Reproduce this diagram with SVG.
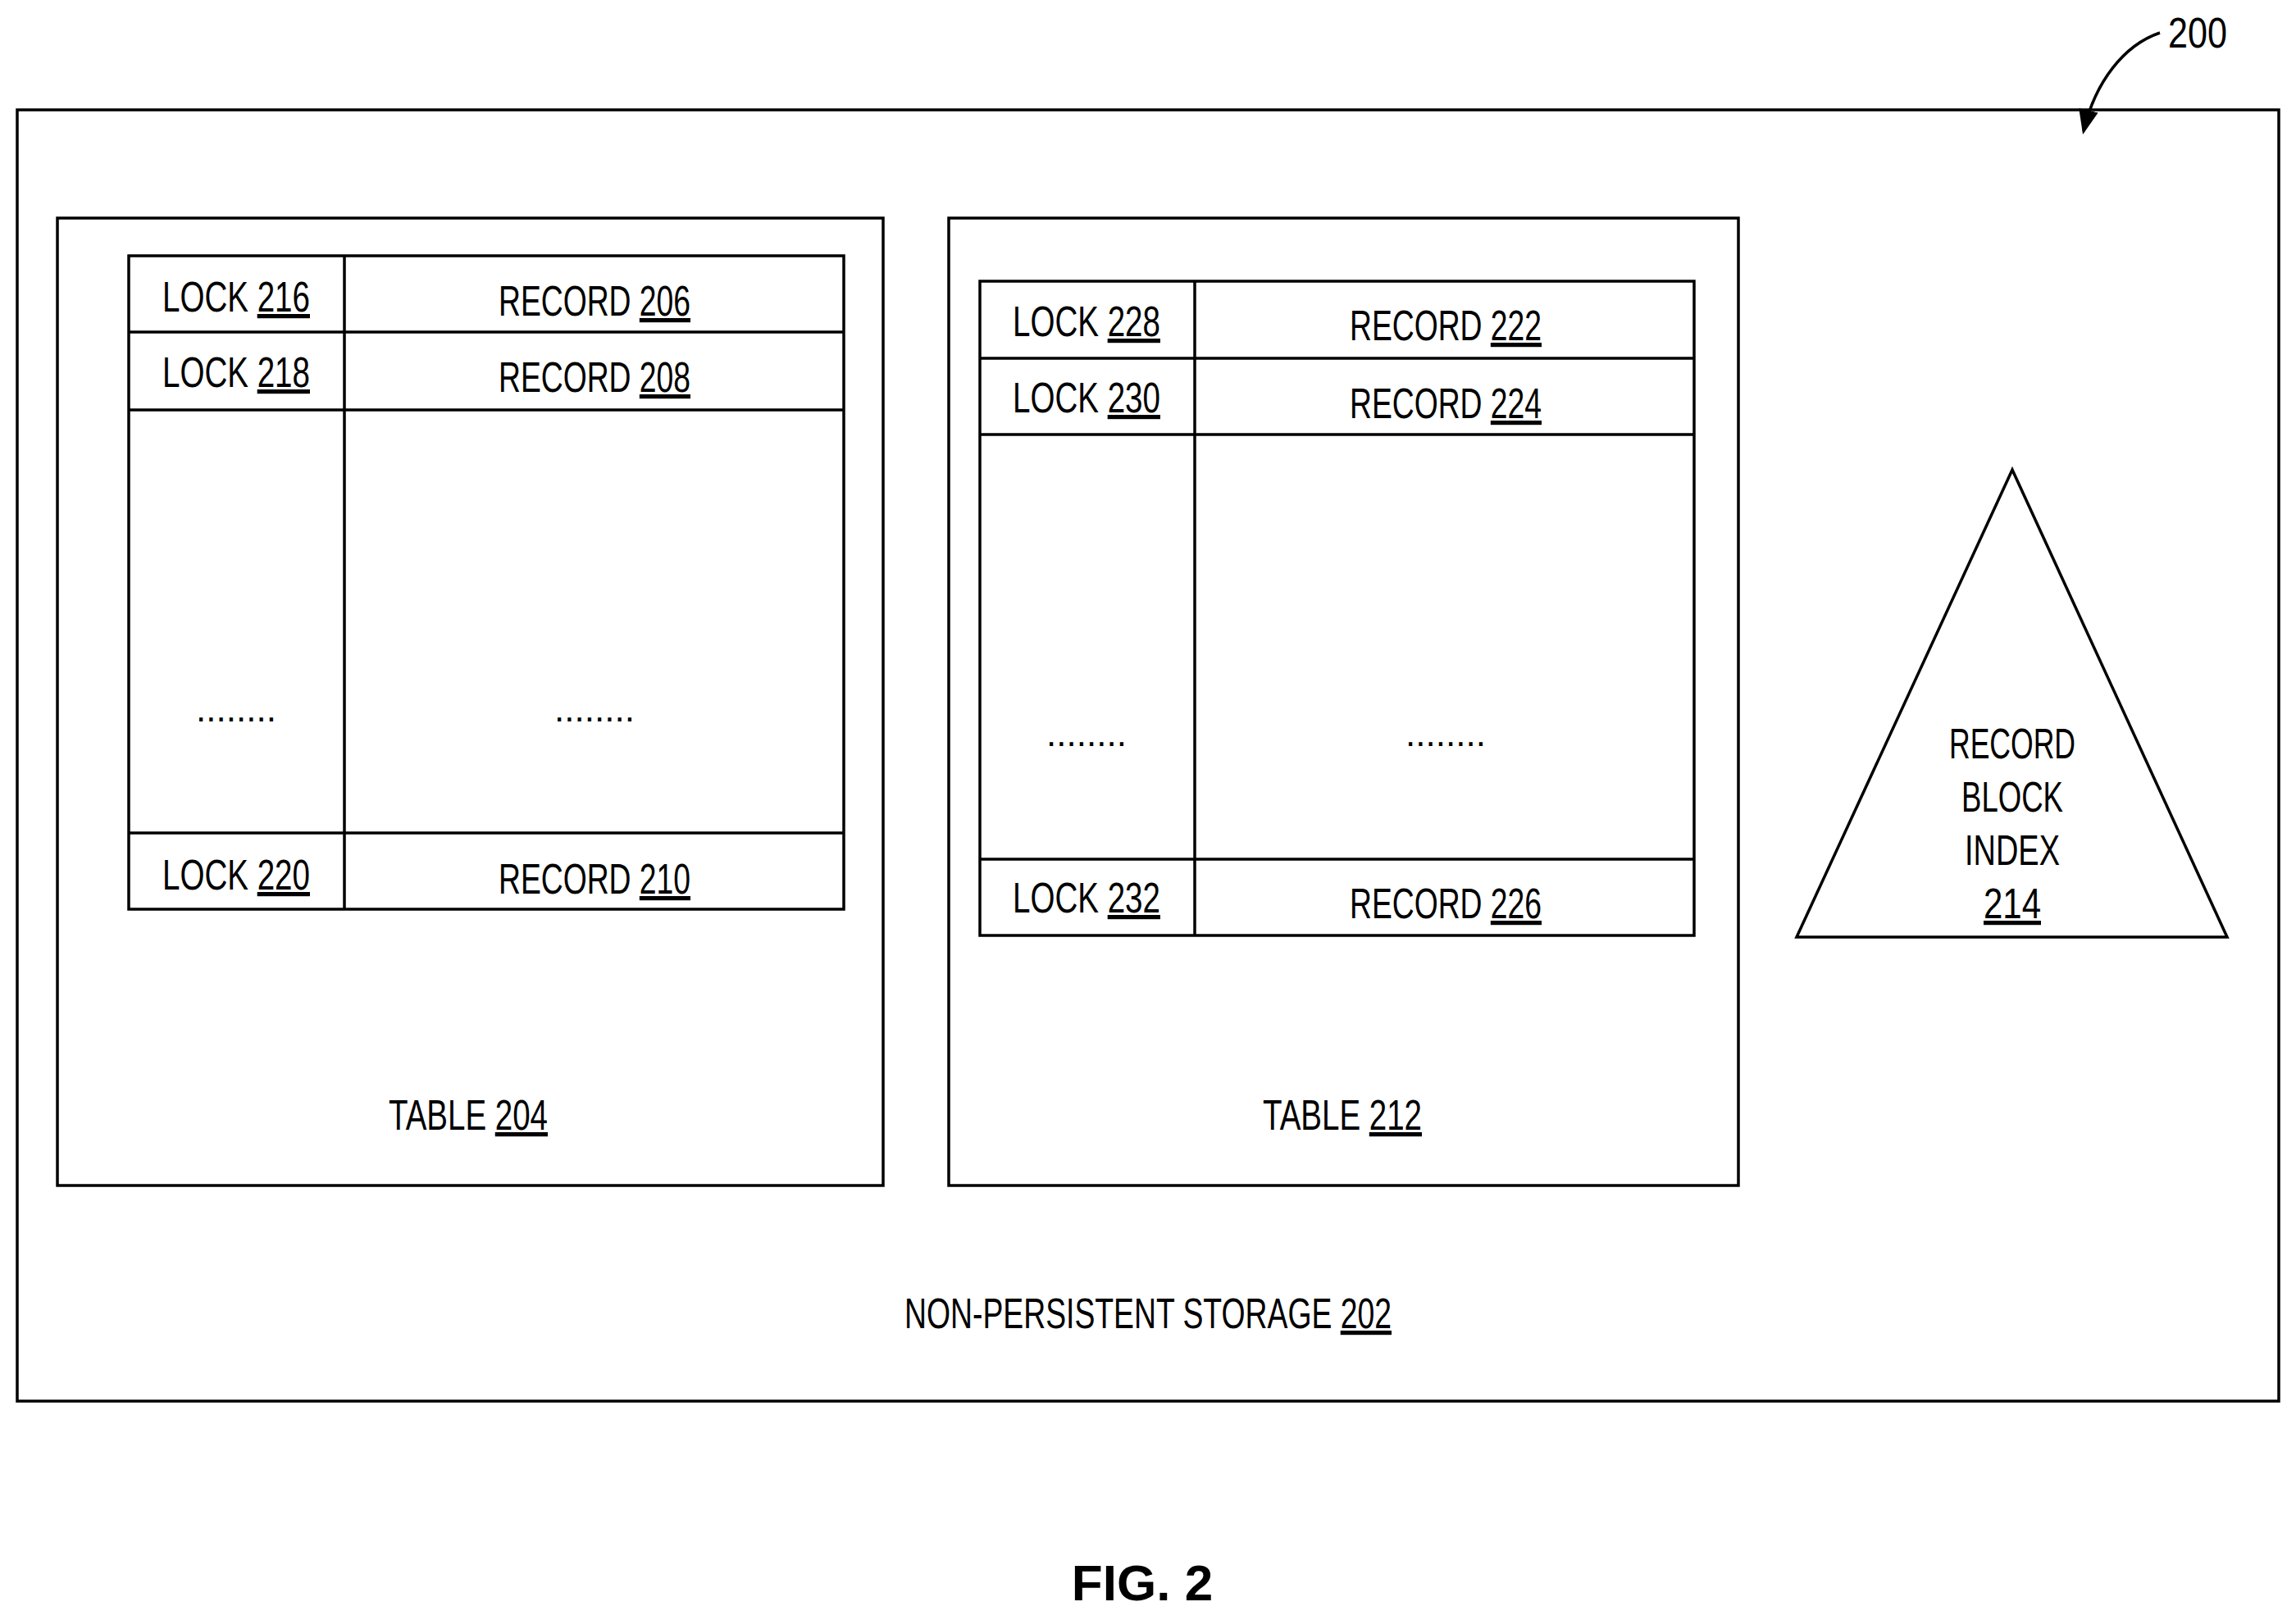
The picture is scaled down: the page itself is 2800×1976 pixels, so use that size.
<svg xmlns="http://www.w3.org/2000/svg" width="2800" height="1976" viewBox="0 0 2800 1976">
<style>
.b{fill:none;stroke:#000;stroke-width:3.5}
.t{font-family:"Liberation Sans",Arial,sans-serif;font-size:52px;text-anchor:middle;fill:#000}
.u{text-decoration:underline}
.d{font-family:"Liberation Sans",Arial,sans-serif;font-size:44px;text-anchor:middle;fill:#000}
</style>
<defs><marker id="ah" markerWidth="30" markerHeight="30" refX="26" refY="12" orient="auto" markerUnits="userSpaceOnUse" viewBox="0 0 30 24"><path d="M0,0 L30,12 L0,24 z"/></marker></defs>
<rect width="2800" height="1976" fill="#fff"/>
<g id="storage202"><rect class="b" x="21" y="134" width="2758" height="1575"/>
<text class="t" x="1400" y="1620" textLength="594" lengthAdjust="spacingAndGlyphs">NON-PERSISTENT STORAGE <tspan class="u">202</tspan></text></g>
<g id="table204"><rect class="b" x="70" y="266" width="1007" height="1180"/>
<rect class="b" x="157" y="312" width="872" height="797"/>
<path class="b" d="M420 312V1109M157 405H1029M157 500H1029M157 1016H1029"/>
<text class="t" x="288" y="380" textLength="180" lengthAdjust="spacingAndGlyphs">LOCK <tspan class="u">216</tspan></text>
<text class="t" x="725" y="385" textLength="234" lengthAdjust="spacingAndGlyphs">RECORD <tspan class="u">206</tspan></text>
<text class="t" x="288" y="472" textLength="180" lengthAdjust="spacingAndGlyphs">LOCK <tspan class="u">218</tspan></text>
<text class="t" x="725" y="478" textLength="234" lengthAdjust="spacingAndGlyphs">RECORD <tspan class="u">208</tspan></text>
<text class="d" x="288" y="880">........</text><text class="d" x="725" y="880">........</text>
<text class="t" x="288" y="1085" textLength="180" lengthAdjust="spacingAndGlyphs">LOCK <tspan class="u">220</tspan></text>
<text class="t" x="725" y="1090" textLength="234" lengthAdjust="spacingAndGlyphs">RECORD <tspan class="u">210</tspan></text>
<text class="t" x="571" y="1378" textLength="194" lengthAdjust="spacingAndGlyphs">TABLE <tspan class="u">204</tspan></text></g>
<g id="table212"><rect class="b" x="1157" y="266" width="963" height="1180"/>
<rect class="b" x="1195" y="343" width="871" height="798"/>
<path class="b" d="M1457 343V1141M1195 437H2066M1195 530H2066M1195 1048H2066"/>
<text class="t" x="1325" y="410" textLength="180" lengthAdjust="spacingAndGlyphs">LOCK <tspan class="u">228</tspan></text>
<text class="t" x="1763" y="415" textLength="234" lengthAdjust="spacingAndGlyphs">RECORD <tspan class="u">222</tspan></text>
<text class="t" x="1325" y="503" textLength="180" lengthAdjust="spacingAndGlyphs">LOCK <tspan class="u">230</tspan></text>
<text class="t" x="1763" y="510" textLength="234" lengthAdjust="spacingAndGlyphs">RECORD <tspan class="u">224</tspan></text>
<text class="d" x="1325" y="910">........</text><text class="d" x="1763" y="910">........</text>
<text class="t" x="1325" y="1113" textLength="180" lengthAdjust="spacingAndGlyphs">LOCK <tspan class="u">232</tspan></text>
<text class="t" x="1763" y="1120" textLength="234" lengthAdjust="spacingAndGlyphs">RECORD <tspan class="u">226</tspan></text>
<text class="t" x="1637" y="1378" textLength="194" lengthAdjust="spacingAndGlyphs">TABLE <tspan class="u">212</tspan></text></g>
<g id="index214"><path class="b" d="M2454 573L2191 1143H2716Z"/>
<text class="t" x="2454" y="925" textLength="154" lengthAdjust="spacingAndGlyphs">RECORD</text>
<text class="t" x="2454" y="990" textLength="124" lengthAdjust="spacingAndGlyphs">BLOCK</text>
<text class="t" x="2454" y="1055" textLength="116" lengthAdjust="spacingAndGlyphs">INDEX</text>
<text class="t u" x="2454" y="1120" textLength="70" lengthAdjust="spacingAndGlyphs">214</text></g>
<g id="connectors"><path d="M2634 40 C2590 55 2555 100 2541 160" fill="none" stroke="#000" stroke-width="3.5" marker-end="url(#ah)"/></g>
<text class="t" x="2680" y="58" textLength="72" lengthAdjust="spacingAndGlyphs">200</text>
<text x="1393" y="1952" style="font-family:'Liberation Sans',Arial,sans-serif;font-weight:bold;font-size:62px;text-anchor:middle">FIG. 2</text>
</svg>
